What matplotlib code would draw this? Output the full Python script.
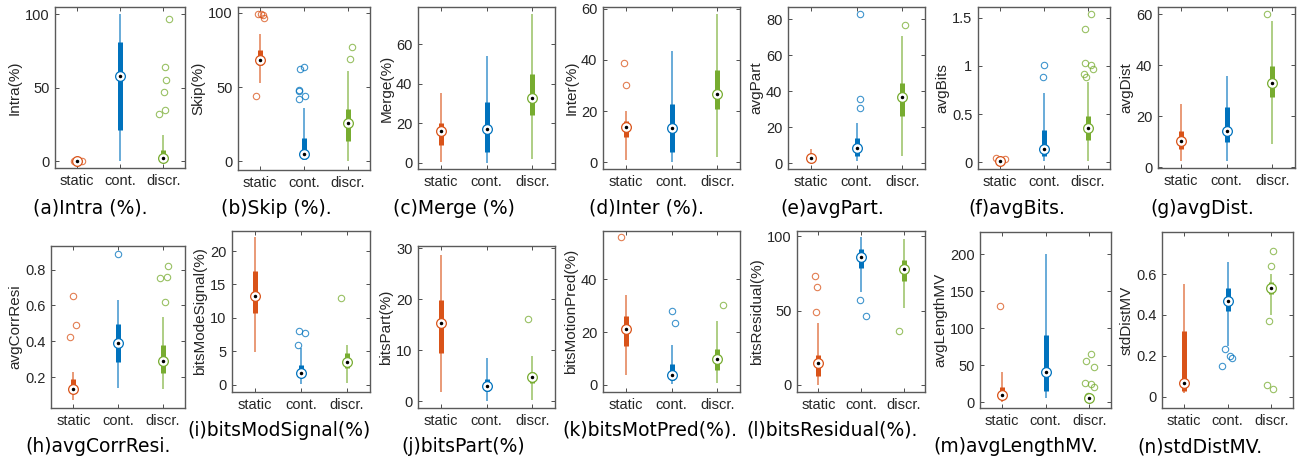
import numpy as np
import matplotlib
matplotlib.use("Agg")
import matplotlib.pyplot as plt
from matplotlib.ticker import FormatStrFormatter

groups = ['static', 'cont.', 'discr.']
colors = ['#D95319', '#0072BD', '#77AC30']

# each stats row: [whisker low, q1, median, q3, whisker high] for static / cont. / discr.
intra_stats = [[0, 0, 0, 0.2, 0.3], [0, 21, 58, 81, 100], [0, 3, 1.8, 7.5, 18]]
intra_out = [[0, 0, 0.2, 0], [], [97, 64, 55, 47, 34.5, 32]]
intra_jit = [[-0.06, 0.03, 0.12, -0.02], [], [0.12, 0.03, 0.07, 0.02, 0.03, -0.1]]

skip_stats = [[53, 65, 68, 75, 86], [1, 1.6, 4.7, 16, 36], [0, 14, 25.6, 35, 61]]
skip_out = [[99, 99, 98.4, 96.9, 44], [63.7, 61.9, 48.4, 47.3, 43.9, 42.2], [77, 69]]
skip_jit = [[-0.05, 0.02, 0.07, 0.08, -0.1], [0.0, -0.1, -0.12, -0.12, 0.03, -0.12], [0.1, 0.05]]

merge_stats = [[0.5, 9, 16, 20, 35.5], [0, 5.5, 17, 31, 54], [1.7, 24.2, 32.6, 45, 75.5]]
merge_out = [[], [], []]
merge_jit = [[], [], []]

inter_stats = [[0.9, 10, 13.8, 16.3, 20], [0, 4.2, 13.5, 22.7, 43.5], [1.9, 21, 26.5, 36.2, 57.8]]
inter_out = [[38.8, 30.3], [], []]
inter_jit = [[-0.03, 0.0], [], []]

avgpart_stats = [[1.5, 2.5, 2.9, 3.4, 7.8], [1.5, 4.3, 8.3, 13.9, 22.5], [4.3, 26.2, 37, 44.7, 71]]
avgpart_out = [[], [82.8, 35.9, 31], [76.9]]
avgpart_jit = [[], [0.07, 0.07, 0.07], [0.07]]

avgbits_stats = [[0.005, 0.008, 0.012, 0.016, 0.02], [0.01, 0.069, 0.135, 0.335, 0.72],
                 [0.01, 0.23, 0.355, 0.48, 0.835]]
avgbits_out = [[0.043, 0.005, 0.033], [1.005, 0.885], [1.54, 1.38, 1.025, 1.005, 0.97, 0.915, 0.88]]
avgbits_jit = [[-0.1, 0.0, 0.12], [0.0, -0.03], [0.07, -0.07, -0.07, 0.07, 0.12, -0.1, -0.05]]

avgdist_stats = [[2.6, 7.1, 10.3, 14.2, 24.9], [2.5, 9.7, 14.3, 23.7, 35.9], [9.1, 27.5, 33, 39.7, 57.5]]
avgdist_out = [[], [], [60]]
avgdist_jit = [[], [], [-0.12]]

corr_stats = [[0.07, 0.11, 0.135, 0.19, 0.23], [0.139, 0.283, 0.39, 0.494, 0.63],
              [0.133, 0.222, 0.289, 0.378, 0.537]]
corr_out = [[0.65, 0.49, 0.426], [0.885], [0.82, 0.756, 0.752, 0.62]]
corr_jit = [[0.0, 0.07, -0.07], [0.0], [0.12, 0.1, -0.07, 0.05]]

modsig_stats = [[4.9, 10.7, 13.2, 17, 22.1], [0.15, 1.15, 1.8, 2.9, 5.5], [0.25, 2.5, 3.4, 4.7, 6]]
modsig_out = [[], [8, 7.7, 6], [13]]
modsig_jit = [[], [-0.05, 0.08, -0.06], [-0.12]]

bpart_stats = [[1.75, 9.5, 15.4, 19.8, 28.7], [0, 1.95, 3.05, 4.3, 8.4], [0.26, 3.6, 4.8, 5.8, 8.9]]
bpart_out = [[], [], [16.2]]
bpart_jit = [[], [], [-0.1]]

motpred_stats = [[3.5, 14.7, 21, 25.9, 34.2], [0.4, 1.6, 3.8, 8, 14.9], [0.8, 5.4, 9.6, 13.7, 24.2]]
motpred_out = [[56], [28, 23.4], [30.2]]
motpred_jit = [[-0.1], [0.0, 0.07], [0.12]]

resid_stats = [[0, 6.1, 14.6, 20.2, 41.6], [62.5, 78.9, 86, 91.2, 99.6], [51.7, 69.7, 78, 84.3, 98]]
resid_out = [[73, 65.8, 49], [57.3, 46.5], [36]]
resid_jit = [[-0.07, -0.03, -0.05], [-0.02, 0.12], [-0.1]]

lenmv_stats = [[0, 5, 9.5, 20, 40.5], [5.4, 15, 40.5, 90.5, 200], [0, 2, 5, 7, 12]]
lenmv_out = [[130], [], [65, 56, 48, 26, 24, 21, 8]]
lenmv_jit = [[-0.05], [], [0.05, -0.08, 0.1, -0.1, 0.05, 0.12, -0.02]]

stdmv_stats = [[0.02, 0.03, 0.068, 0.32, 0.55], [0.25, 0.42, 0.47, 0.53, 0.66], [0.4, 0.5, 0.53, 0.56, 0.6]]
stdmv_out = [[], [0.234, 0.2, 0.19, 0.15], [0.71, 0.64, 0.37, 0.06, 0.04]]
stdmv_jit = [[], [-0.05, 0.05, 0.1, -0.12], [0.05, 0.0, -0.05, -0.1, 0.05]]

# (ylabel, caption, stats, outliers, jitter, ylim, yticks)
panels = [
    ('Intra(%)', '(a)Intra (%).', intra_stats, intra_out, intra_jit, (-4.75, 105), [0, 50, 100]),
    ('Skip(%)', '(b)Skip (%).', skip_stats, skip_out, skip_jit, (-5.8, 104), [0, 50, 100]),
    ('Merge(%)', '(c)Merge (%)', merge_stats, merge_out, merge_jit, (-3.2, 79), [0, 20, 40, 60]),
    ('Inter(%)', '(d)Inter (%).', inter_stats, inter_out, inter_jit, (-2.6, 60.6), [0, 20, 40, 60]),
    ('avgPart', '(e)avgPart.', avgpart_stats, avgpart_out, avgpart_jit, (-3.1, 86.9), [0, 20, 40, 60, 80]),
    ('avgBits', '(f)avgBits.', avgbits_stats, avgbits_out, avgbits_jit, (-0.07, 1.61), [0, 0.5, 1, 1.5]),
    ('avgDist', '(g)avgDist.', avgdist_stats, avgdist_out, avgdist_jit, (-0.3, 62.8), [0, 20, 40, 60]),
    ('avgCorrResi', '(h)avgCorrResi.', corr_stats, corr_out, corr_jit, (0.028, 0.931), [0.2, 0.4, 0.6, 0.8]),
    ('bitsModeSignal(%)', '(i)bitsModSignal(%)', modsig_stats, modsig_out, modsig_jit, (-1.1, 23),
     [0, 5, 10, 15, 20]),
    ('bitsPart(%)', '(j)bitsPart(%)', bpart_stats, bpart_out, bpart_jit, (-1.3, 30.4), [0, 10, 20, 30]),
    ('bitsMotionPred(%)', '(k)bitsMotPred(%).', motpred_stats, motpred_out, motpred_jit, (-2.8, 58.4),
     [0, 20, 40]),
    ('bitsResidual(%)', '(l)bitsResidual(%).', resid_stats, resid_out, resid_jit, (-4.9, 103.6), [0, 50, 100]),
    ('avgLengthMV', '(m)avgLengthMV.', lenmv_stats, lenmv_out, lenmv_jit, (-8, 230), [0, 50, 100, 150, 200]),
    ('stdDistMV', '(n)stdDistMV.', stdmv_stats, stdmv_out, stdmv_jit, (-0.054, 0.805), [0, 0.2, 0.4, 0.6]),
]

# axes boxes in pixels (left, top, right, bottom) and caption centre (x, y)
boxes = [(55, 7, 185, 168), (238, 7, 370, 170), (418, 7, 555, 169), (603, 7, 740, 169),
         (788, 7, 925, 169), (978, 7, 1110, 169), (1158, 7, 1295, 168),
         (51, 246, 185, 408), (232, 231, 370, 392), (418, 246, 555, 408), (603, 231, 740, 392),
         (797, 231, 925, 392), (980, 232, 1111, 408), (1162, 232, 1293, 408)]
caps = [(90, 208), (276, 208), (454, 208), (646, 208), (832, 208), (1017, 208), (1202, 208),
        (98, 447), (279, 430), (463, 447), (650, 430), (832, 430), (1016, 447), (1200, 447)]

W, H = 1301, 463
fig = plt.figure(figsize=(W / 100, H / 100), dpi=100)
axfont = 'Liberation Sans'

for (ylab, cap, stats, outs, jits, ylim, yt), (l, t, r, b), (cx, cy) in zip(panels, boxes, caps):
    ax = fig.add_axes([l / W, 1 - b / H, (r - l) / W, (b - t) / H])
    for i, c in enumerate(colors):
        x = i + 1
        lo, q1, med, q3, hi = stats[i]
        ax.plot([x, x], [lo, hi], color=c, lw=1.1, alpha=0.75, solid_capstyle='butt', zorder=2)
        ax.plot([x, x], [q1, q3], color=c, lw=3.6, solid_capstyle='butt', zorder=3)
        if outs[i]:
            ax.plot(x + np.array(jits[i]), outs[i], 'o', mfc='none', mec=c, ms=4.6, mew=0.8,
                    alpha=0.75, zorder=4)
        ax.plot(x, med, 'o', mfc='white', mec=c, ms=7, mew=0.9, zorder=5)
        ax.plot(x, med, 'o', color='k', ms=1.5, zorder=6)
    ax.set_xlim(0.5, 3.5)
    ax.set_ylim(*ylim)
    ax.set_xticks([1, 2, 3])
    ax.set_xticklabels(groups, family=axfont)
    ax.set_yticks(yt)
    ax.yaxis.set_major_formatter(FormatStrFormatter('%g'))
    for lab in ax.get_yticklabels():
        lab.set_family(axfont)
    ax.tick_params(direction='in', top=True, right=True, length=3, width=0.7,
                   labelsize=10.5, labelcolor='#262626', color='#4d4d4d', pad=4)
    ax.set_ylabel(ylab, fontsize=11, color='#262626', labelpad=2, family=axfont)
    for s in ax.spines.values():
        s.set_color('#5a5a5a')
        s.set_linewidth(1.0)
    fig.text(cx / W, 1 - cy / H, cap, ha='center', va='center', fontsize=13.5, color='black')

fig.savefig('out.png', dpi=100)
